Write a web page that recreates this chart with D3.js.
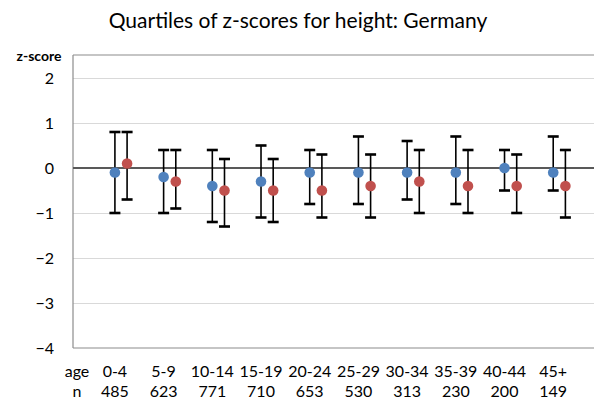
<!DOCTYPE html>
<html>
<head>
<meta charset="utf-8">
<script src="https://cdn.jsdelivr.net/npm/d3@7"></script>
<style>
  html, body { margin: 0; padding: 0; background: #fff; }
  svg { display: block; font-family: Lato, "Open Sans", sans-serif; }
</style>
</head>
<body>
<svg id="chart" width="594" height="403"></svg>
<script>
const categories = ["0-4", "5-9", "10-14", "15-19", "20-24", "25-29", "30-34", "35-39", "40-44", "45+"];
const counts = [485, 623, 771, 710, 653, 530, 313, 230, 200, 149];
// Series A (blue)
const blueMedian = [-0.1, -0.2, -0.4, -0.3, -0.1, -0.1, -0.1, -0.1, 0.0, -0.1];
const blueQ1 = [-1.0, -1.0, -1.2, -1.1, -0.8, -0.8, -0.7, -0.8, -0.5, -0.5];
const blueQ3 = [0.8, 0.4, 0.4, 0.5, 0.4, 0.7, 0.6, 0.7, 0.4, 0.7];
// Series B (red)
const redMedian = [0.1, -0.3, -0.5, -0.5, -0.5, -0.4, -0.3, -0.4, -0.4, -0.4];
const redQ1 = [-0.7, -0.9, -1.3, -1.2, -1.1, -1.1, -1.0, -1.0, -1.0, -1.1];
const redQ3 = [0.8, 0.4, 0.2, 0.2, 0.3, 0.3, 0.4, 0.4, 0.3, 0.4];
const yTicks = [-4, -3, -2, -1, 0, 1, 2];

const svg = d3.select("#chart");
const pLeft = 73, pTop = 55, pBottom = 348, pRight = 594;

const x = d3.scaleLinear().domain([0, 10.7]).range([72.3, 593.4]);
const y = d3.scaleLinear().domain([-4, 2.5]).range([pBottom, pTop + 0.5]);

// gridlines
svg.append("g").selectAll("line").data(yTicks.filter(t => t !== 0 && t !== -4)).join("line")
  .attr("x1", pLeft).attr("x2", pRight)
  .attr("y1", d => Math.round(y(d)) + 0.5).attr("y2", d => Math.round(y(d)) + 0.5)
  .attr("stroke", "#d9d9d9").attr("stroke-width", 1);

// plot border (top, left, bottom)
svg.append("line").attr("x1", pLeft).attr("x2", pRight).attr("y1", pTop).attr("y2", pTop)
  .attr("stroke", "#8c8c8c").attr("stroke-width", 1.2);
svg.append("line").attr("x1", pLeft).attr("x2", pRight).attr("y1", pBottom).attr("y2", pBottom)
  .attr("stroke", "#8c8c8c").attr("stroke-width", 1.2);
svg.append("line").attr("x1", pLeft).attr("x2", pLeft).attr("y1", pTop).attr("y2", pBottom)
  .attr("stroke", "#8c8c8c").attr("stroke-width", 1.2);

// zero line
svg.append("line").attr("x1", pLeft).attr("x2", pRight).attr("y1", y(0)).attr("y2", y(0))
  .attr("stroke", "#595959").attr("stroke-width", 1.8);

// y axis labels via d3 axis
const yAxis = d3.axisLeft(y).tickValues(yTicks).tickSize(0).tickPadding(19).tickFormat(d3.format("d"));
const gy = svg.append("g").attr("transform", `translate(${pLeft},0)`).call(yAxis);
gy.select(".domain").remove();
gy.selectAll("text").attr("font-size", 16).attr("fill", "#000").attr("font-family", "Lato, sans-serif");

// y axis title
svg.append("text").attr("x", 39).attr("y", 61).attr("text-anchor", "middle")
  .attr("font-size", 14).attr("font-weight", "bold").text("z-score");

// title
svg.append("text").attr("x", 298).attr("y", 28).attr("text-anchor", "middle")
  .attr("font-size", 21).text("Quartiles of z-scores for height: Germany");

function drawSeries(med, q1, q3, offset, color) {
  const g = svg.append("g");
  const data = categories.map((c, i) => ({ i, med: med[i], q1: q1[i], q3: q3[i] }));
  const cx = d => x(d.i + 1 + offset);
  g.selectAll("line.v").data(data).join("line").attr("class", "v")
    .attr("x1", cx).attr("x2", cx).attr("y1", d => y(d.q3)).attr("y2", d => y(d.q1))
    .attr("stroke", "#000").attr("stroke-width", 1.6);
  g.selectAll("line.t").data(data).join("line").attr("class", "t")
    .attr("x1", d => cx(d) - 5.5).attr("x2", d => cx(d) + 5.5)
    .attr("y1", d => y(d.q3)).attr("y2", d => y(d.q3))
    .attr("stroke", "#000").attr("stroke-width", 2.6);
  g.selectAll("line.b").data(data).join("line").attr("class", "b")
    .attr("x1", d => cx(d) - 5.5).attr("x2", d => cx(d) + 5.5)
    .attr("y1", d => y(d.q1)).attr("y2", d => y(d.q1))
    .attr("stroke", "#000").attr("stroke-width", 2.6);
  g.selectAll("circle").data(data).join("circle")
    .attr("cx", cx).attr("cy", d => y(d.med)).attr("r", 5.3)
    .attr("fill", color);
}
drawSeries(blueMedian, blueQ1, blueQ3, -0.125, "#4f81bd");
drawSeries(redMedian, redQ1, redQ3, 0.125, "#c0504d");

// category labels
const lab = svg.append("g").attr("font-size", 16).attr("text-anchor", "middle");
lab.append("text").attr("x", 77).attr("y", 377).text("age");
lab.append("text").attr("x", 77).attr("y", 397).text("n");
lab.selectAll("text.c").data(categories).join("text").attr("class", "c")
  .attr("x", (d, i) => x(i + 1 - 0.125)).attr("y", 377).text(d => d);
lab.selectAll("text.n").data(counts).join("text").attr("class", "n")
  .attr("x", (d, i) => x(i + 1 - 0.125)).attr("y", 397).text(d => d);
</script>
</body>
</html>
